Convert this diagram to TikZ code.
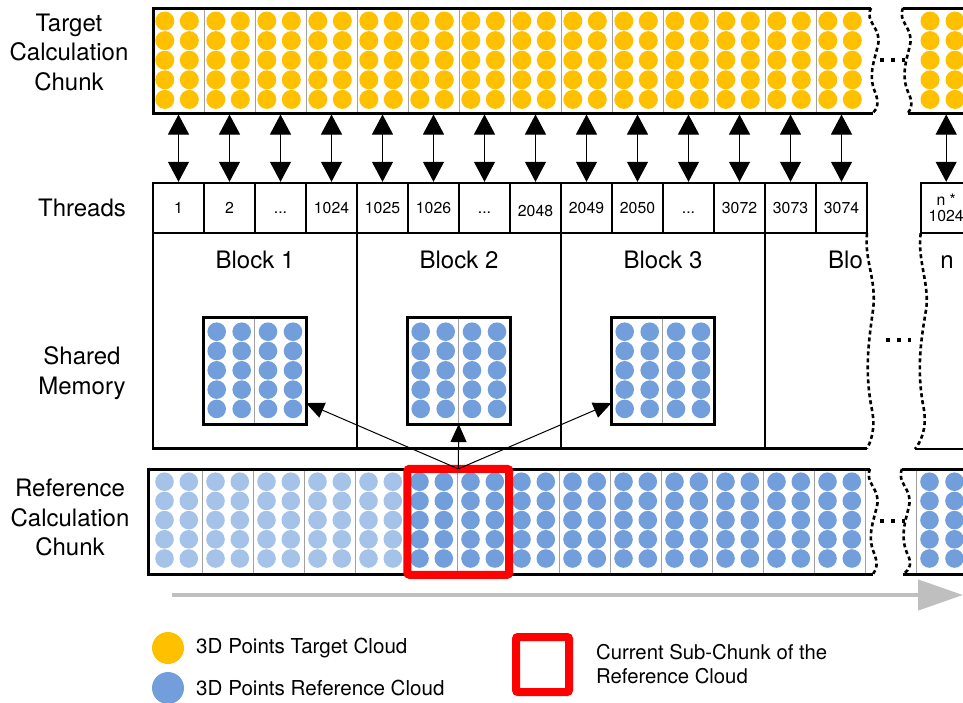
\documentclass[tikz,border=0pt]{standalone}
\usepackage{fontspec}
\setmainfont{TeX Gyre Heros}
\usetikzlibrary{arrows.meta,calc}
\definecolor{gold}{RGB}{255,192,0}
\definecolor{ptblue}{RGB}{114,159,219}
\definecolor{ptlight}{RGB}{165,194,233}
\definecolor{sepgray}{RGB}{160,160,160}
\definecolor{arrgray}{RGB}{191,191,191}
\begin{document}
\begin{tikzpicture}[x=1pt,y=-1pt,
  lbl/.style={font=\fontsize{24}{29.5}\selectfont, align=center, inner sep=0pt},
  cell/.style={draw, line width=2pt, minimum width=51pt, minimum height=50pt, inner sep=0pt, outer sep=0pt,
     font=\fontsize{15.8}{18}\selectfont, text height=11.3pt, text depth=0pt},
  blk/.style={draw, line width=2.3pt, minimum width=204pt, minimum height=215.2pt, inner sep=0pt, outer sep=0pt},
  smbox/.style={draw, line width=3pt, minimum width=102.7pt, minimum height=106.3pt, inner sep=0pt, outer sep=0pt},
  area/.style={minimum width=714pt, inner sep=0pt, outer sep=0pt},
  wave/.style={line width=2.6pt, dash pattern=on 4pt off 3pt},
  dotline/.style={line width=3.5pt, dash pattern=on 4pt off 7pt},
  sep/.style={sepgray, line width=1pt},
  frame/.style={line width=3pt},
  dbl/.style={{Triangle[length=20pt,width=21pt]}-{Triangle[length=20pt,width=21pt]}, line width=1pt, shorten <=1.5pt, shorten >=1.5pt},
  smarrow/.style={-{Triangle[length=18pt,width=16pt]}, line width=1pt},
  curbox/.style={draw=red, line width=8pt, rounded corners=2pt, inner sep=0pt, outer sep=0pt},
  legtext/.style={font=\fontsize{20.6}{24}\selectfont, anchor=west, inner sep=0pt}
]
\useasboundingbox (0,0) rectangle (963,702);
\clip (0,0) rectangle (963,702);

% ---------------- left labels
\node[lbl] (lab1) at (69,52) {Target\\Calculation\\Chunk};
\node[lbl] (lab2) at (82,208) {Threads};
\node[lbl] (lab3) at (82,373) {Shared\\Memory};
\node[lbl] (lab4) at (70,517.5) {Reference\\Calculation\\Chunk};

% ---------------- target chunk
\node[area, minimum height=105pt] (tgt) at (510,60.5) {};
\foreach \k in {1,...,13} \draw[sep] (153+51*\k,8) -- (153+51*\k,113);
\foreach \k in {0,...,13} {
  \foreach \j in {0,...,4} {
    \fill[gold] (164.8+51*\k, 21+19.6*\j) circle (9.5pt);
    \fill[gold] (189.3+51*\k, 21+19.6*\j) circle (9.5pt);
  }
}
\foreach \j in {0,...,4} {
  \fill[gold] (930, 21+19.6*\j) circle (9.5pt);
  \fill[gold] (955, 21+19.6*\j) circle (9.5pt);
}
\draw[frame] (871,8) -- (153,8) -- (153,113) -- (873,113);
\draw[wave] (871,8) .. controls (864,22) and (882,28) .. (878,45) .. controls (874,62) and (868,75) .. (875,92) .. controls (879,102) and (878,108) .. (873,113);
\draw[dotline] (880,60) -- (905,60);
\draw[wave] (903,8) .. controls (897,22) and (914,28) .. (910,45) .. controls (906,62) and (901,75) .. (908,92) .. controls (913,102) and (912,108) .. (908,113);
\draw[frame] (903,8) -- (963,8);
\draw[frame] (908,113) -- (963,113);
\node[inner sep=0pt, outer sep=0pt, minimum width=60pt, minimum height=105pt] (tgtn) at (933,60.5) {};

% ---------------- threads
\node[cell] (th1) at (178.5,208.3) {1};
\node[cell] (th2) at (229.5,208.3) {2};
\node[cell] (th3) at (280.5,208.3) {...};
\node[cell] (th4) at (331.5,208.3) {1024};
\node[cell] (th5) at (382.5,208.3) {1025};
\node[cell] (th6) at (433.5,208.3) {1026};
\node[cell] (th7) at (484.5,208.3) {...};
\node[cell] (th8) at (535.5,208.3) {\raisebox{-3pt}{2048}};
\node[cell] (th9) at (586.5,208.3) {2049};
\node[cell] (th10) at (637.5,208.3) {2050};
\node[cell] (th11) at (688.5,208.3) {...};
\node[cell] (th12) at (739.5,208.3) {3072};
\node[cell] (th13) at (790.5,208.3) {3073};
\node[cell] (th14) at (841.5,208.3) {3074};
\node[cell, align=center, text height=, text depth=] (thn) at (946.2,208.3) {n *\\[-2pt]1024};

% arrows target <-> threads
\foreach \i in {1,...,14} \draw[dbl] (th\i.north |- tgt.south) -- (th\i.north);
\draw[dbl] (thn.north |- tgtn.south) -- (thn.north);

% ---------------- blocks
\node[blk] (blk1) at (255,340.9) {};
\node[blk] (blk2) at (459,340.9) {};
\node[blk] (blk3) at (663,340.9) {};
\draw[line width=2.3pt] (765,448.5) -- (867,448.5);
\draw[wave] (867,233.3) .. controls (864,260) and (877,280) .. (873,310) .. controls (869,340) and (864,370) .. (872,410) .. controls (876,430) and (870,443) .. (867,448.5);
\draw[dotline] (886,340) -- (911,340);
\draw[wave] (920.7,233.3) .. controls (917,260) and (930,285) .. (926,310) .. controls (921,340) and (916,370) .. (924,410) .. controls (927,430) and (920,443) .. (915,449);
\draw[line width=2.3pt] (915,449) -- (963,449);

\node[lbl, anchor=base] (bl1) at (255,268.2) {Block 1};
\node[lbl, anchor=base] (bl2) at (459,268.2) {Block 2};
\node[lbl, anchor=base] (bl3) at (663,268.2) {Block 3};
\node[lbl, anchor=base west] (bl4) at (828,268.2) {Blo};
\node[lbl, anchor=base] (bln) at (947,268.2) {n};

% ---------------- shared memory boxes
\foreach \c/\nm in {254.7/sm1, 458.7/sm2, 662.7/sm3} {
  \foreach \j in {0,...,4} {
    \foreach \dx in {-38,-13,13.3,38.3}
      \fill[ptblue] (\c+\dx, 331.7+19.3*\j) circle (9.3pt);
  }
  \draw[sep] (\c,317.7) -- (\c,424);
  \node[smbox] (\nm) at (\c,370.9) {};
}

% ---------------- reference chunk
\foreach \k in {0,...,12} \draw[sep] (202.5+51*\k,469) -- (202.5+51*\k,574);
\draw[sep] (865,469) -- (865,574);
\draw[sep] (916,469) -- (916,574);
\foreach \k in {0,...,13} {
  \ifnum\k<5 \def\colr{ptlight}\else\def\colr{ptblue}\fi
  \foreach \j in {0,...,4} {
    \fill[\colr] (164.5+51*\k, 481.7+19.2*\j) circle (9.3pt);
    \fill[\colr] (188.8+51*\k, 481.7+19.2*\j) circle (9.3pt);
  }
}
\foreach \j in {0,...,4} {
  \fill[ptblue] (929.5, 481.7+19.2*\j) circle (9.3pt);
  \fill[ptblue] (954.5, 481.7+19.2*\j) circle (9.3pt);
}
\draw[frame] (870,469) -- (148,469) -- (148,574) -- (873,574);
\draw[wave] (870,469) .. controls (864,483) and (881,489) .. (877,506) .. controls (873,523) and (867,536) .. (874,553) .. controls (878,563) and (877,569) .. (873,574);
\draw[dotline] (880,521) -- (905,521);
\draw[wave] (902,469) .. controls (896,483) and (913,489) .. (909,506) .. controls (905,523) and (900,536) .. (907,553) .. controls (912,563) and (911,569) .. (903,574);
\draw[frame] (902,469) -- (963,469);
\draw[frame] (903,574) -- (963,574);

% current sub-chunk
\node[curbox, minimum width=101.7pt, minimum height=105.9pt] (cur) at (458.3,521.8) {};

% arrows to shared memory
\draw[smarrow] (cur.north) -- ([yshift=21pt]sm1.south east);
\draw[smarrow] (cur.north) -- (sm2.south);
\draw[smarrow] (cur.north) -- ([yshift=21pt]sm3.south west);

% ---------------- big gray arrow
\coordinate (gs) at (172,595);
\coordinate (ge) at (963,595);
\draw[arrgray, line width=4.5pt, -{Triangle[length=45pt,width=30pt]}] (gs) -- (ge);

% ---------------- legend
\fill[gold] (168,648) circle (16pt);
\fill[ptblue] (168,688) circle (16pt);
\node[legtext] (lt1) at (196,648) {3D Points Target Cloud};
\node[legtext] (lt2) at (196,688) {3D Points Reference Cloud};
\node[curbox, minimum width=53pt, minimum height=55pt] (leg) at (542.5,664.5) {};
\node[legtext, align=left, font=\fontsize{20.3}{24}\selectfont] (lt3) at (596,664) {Current Sub-Chunk of the\\Reference Cloud};
\end{tikzpicture}
\end{document}
